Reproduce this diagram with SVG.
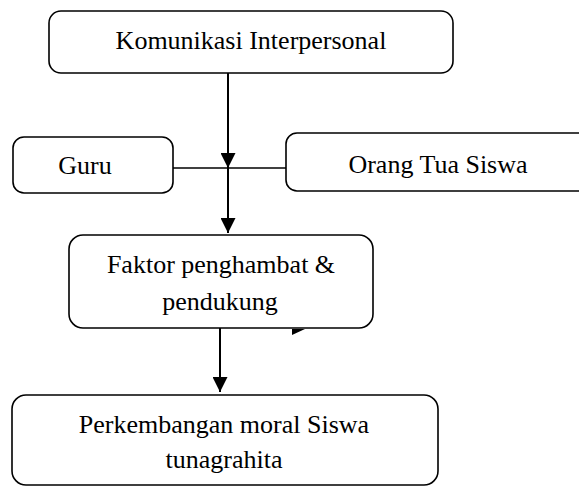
<svg xmlns="http://www.w3.org/2000/svg" width="579" height="486" viewBox="0 0 579 486">
<style>
.box{fill:#fff;stroke:#000;stroke-width:1.6}
.t{font-family:"Liberation Serif","Times New Roman",serif;font-size:26px;fill:#000;text-anchor:middle}
.ln{stroke:#000;stroke-width:2;fill:none}
.hl{stroke:#000;stroke-width:1.6;fill:none}
</style>
<defs>
<marker id="ah" viewBox="0 0 10 10" refX="10" refY="5" markerWidth="15" markerHeight="15" markerUnits="userSpaceOnUse" orient="auto">
<path d="M0,0 L10,5 L0,10 z" fill="#000"/>
</marker>
</defs>
<g id="n-komunikasi">
<rect class="box" x="49" y="11" width="404" height="62" rx="12"/>
<text class="t" x="251" y="49">Komunikasi Interpersonal</text>
</g>
<g id="n-guru">
<rect class="box" x="13" y="137" width="160" height="56" rx="11"/>
<text class="t" x="85" y="174">Guru</text>
</g>
<g id="n-orangtua">
<rect class="box" x="286" y="133" width="330" height="58" rx="11"/>
<text class="t" x="438" y="173">Orang Tua Siswa</text>
</g>
<g id="n-faktor">
<rect class="box" x="69" y="235" width="304" height="93" rx="14"/>
<text class="t" x="221" y="273">Faktor penghambat &amp;</text>
<text class="t" x="220" y="310">pendukung</text>
</g>
<g id="n-perkembangan">
<rect class="box" x="12" y="395" width="426" height="90" rx="14"/>
<text class="t" x="224" y="433">Perkembangan moral Siswa</text>
<text class="t" x="224" y="468">tunagrahita</text>
</g>
<g id="connectors">
<line class="hl" x1="173" y1="168" x2="286" y2="168"/>
<line class="ln" x1="228" y1="73" x2="228" y2="168" marker-end="url(#ah)"/>
<line class="ln" x1="228" y1="168" x2="228" y2="233" marker-end="url(#ah)"/>
<line class="ln" x1="220" y1="328" x2="220" y2="392" marker-end="url(#ah)"/>
<polygon points="292,329 305,329 292,335" fill="#000"/>
</g>
</svg>
